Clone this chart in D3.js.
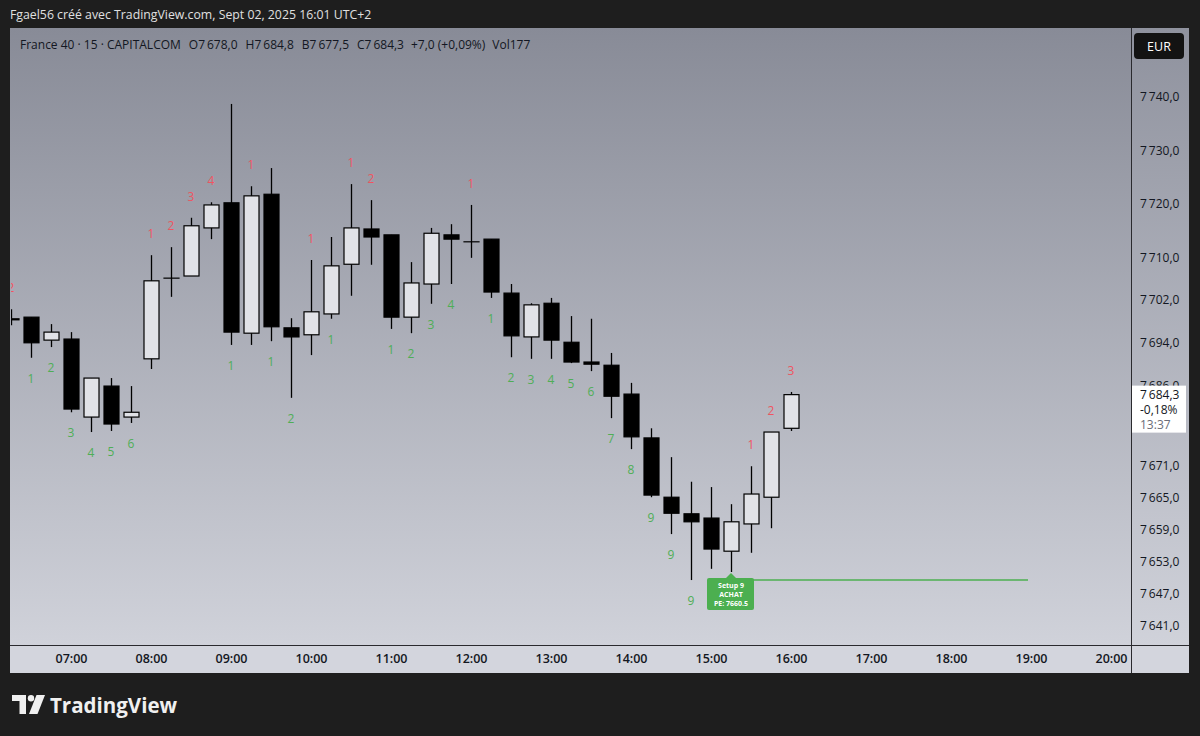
<!DOCTYPE html>
<html><head><meta charset="utf-8">
<script src="https://cdn.jsdelivr.net/npm/d3@7"></script>
<style>
html,body{margin:0;padding:0;background:#1e1e1e;}
svg{display:block;}
text{font-family:"Open Sans","Noto Sans",sans-serif;}
</style></head>
<body>
<svg id="c" width="1200" height="736"></svg>
<script>
// ---- DATA ----
const times = ["06:15","06:30","06:45","07:00","07:15","07:30","07:45","08:00","08:15","08:30","08:45",
  "09:00","09:15","09:30","09:45","10:00","10:15","10:30","10:45","11:00","11:15","11:30","11:45",
  "12:00","12:15","12:30","12:45","13:00","13:15","13:30","13:45","14:00","14:15","14:30","14:45",
  "15:00","15:15","15:30","15:45","16:00"];
const opens  = [7698.3,7698.8,7694.5,7694.7,7680.1,7685.9,7680.1,7691.0,7706.1,7706.5,7715.5,
  7720.2,7695.8,7721.8,7696.8,7695.5,7699.4,7708.7,7715.3,7714.2,7698.8,7705.0,7714.2,
  7712.9,7713.4,7703.3,7695.1,7701.4,7694.1,7690.4,7689.8,7684.4,7676.2,7665.1,7662.0,
  7661.2,7655.0,7660.1,7665.1,7678.0];
const highs  = [7700.3,7698.8,7697.5,7696.0,7687.4,7687.4,7685.9,7710.4,7711.9,7717.4,7720.3,
  7738.7,7723.3,7726.7,7698.6,7709.5,7713.8,7723.7,7720.7,7714.2,7709.1,7715.5,7716.2,
  7719.8,7713.4,7705.0,7701.4,7702.4,7699.0,7698.5,7692.1,7686.5,7678.0,7672.6,7668.0,
  7667.0,7663.8,7670.9,7677.3,7684.8];
const lows   = [7697.3,7691.2,7693.2,7681.0,7677.3,7677.5,7679.0,7689.1,7702.6,7706.5,7713.4,
  7693.6,7693.6,7694.3,7683.7,7691.7,7698.5,7702.8,7708.6,7696.6,7695.8,7701.3,7705.0,
  7709.9,7702.4,7691.3,7691.0,7691.0,7690.2,7688.7,7679.9,7674.1,7665.1,7658.2,7649.6,
  7651.7,7651.1,7654.7,7659.3,7677.5];
const closes = [7698.5,7694.0,7696.0,7681.6,7687.4,7678.8,7681.0,7705.6,7706.1,7715.9,7719.8,
  7696.0,7721.5,7697.0,7695.1,7699.8,7708.4,7715.5,7713.8,7698.8,7705.2,7714.5,7713.4,
  7712.9,7703.5,7695.3,7701.1,7694.5,7690.4,7690.0,7684.0,7676.4,7665.5,7662.1,7660.5,
  7655.4,7660.5,7665.7,7677.3,7684.3];
// TD sequential counts: sell (red, above), buy (green, below)
const sellCount = [2,null,null,null,null,null,null,1,2,3,4,
  null,1,null,null,1,null,1,2,null,null,null,null,
  1,null,null,null,null,null,null,null,null,null,null,null,
  null,null,1,2,3];
const buyCount = [null,1,2,3,4,5,6,null,null,null,null,
  1,null,1,2,null,1,null,null,1,2,3,4,
  null,1,2,3,4,5,6,7,8,9,9,9,
  null,null,null,null,null];
const yTicks = [7740,7730,7720,7710,7702,7694,7686,7671,7665,7659,7653,7647,7641];
const xTickTimes = ["07:00","08:00","09:00","10:00","11:00","12:00","13:00","14:00","15:00","16:00","17:00","18:00","19:00","20:00"];
const setupIndex = 36;
const setupText = ["Setup 9","ACHAT","PE: 7660.5"];
const riskLevel = 7649.6;
const riskEnd = "19:00";
const lastPrice = 7684.3, lastPct = "-0,18%", countdown = "13:37";
const headerText = "Fgael56 créé avec TradingView.com, Sept 02, 2025 16:01 UTC+2";
const legendText = "France 40 · 15 · CAPITALCOM";
const legendOHLC = [["O","7\u2009678,0"],["H","7\u2009684,8"],["B","7\u2009677,5"],["C","7\u2009684,3"]];
const legendChange = "+7,0 (+0,09%)", legendVol = "Vol177";

// ---- LAYOUT ----
const svg = d3.select("#c");
const W = 1200, H = 736;
const plot = {x0:10, x1:1131, y0:28, y1:645};
const axisR = {x0:1131, x1:1189};
const axisB = {y0:645, y1:673};

const parseT = d3.timeParse("%Y-%m-%d %H:%M");
const dt = s => parseT("2025-09-02 " + s);
const x = d3.scaleTime().domain([dt("07:00"), dt("20:00")]).range([71, 71 + 13*80]);
const y = d3.scaleLinear().domain([7641, 7740]).range([626, 97]);
const loc = d3.formatLocale({decimal:",", thousands:"\u2009", grouping:[3], currency:["",""]});
const fmt = loc.format(",.1f");

const defs = svg.append("defs");
const g1 = defs.append("linearGradient").attr("id","bg").attr("x1",0).attr("y1",0).attr("x2",0).attr("y2",1);
g1.append("stop").attr("offset","0%").attr("stop-color","#888b97");
g1.append("stop").attr("offset","100%").attr("stop-color","#d0d2da");
const g2 = defs.append("linearGradient").attr("id","bgr").attr("x1",0).attr("y1",0).attr("x2",0).attr("y2",1);
g2.append("stop").attr("offset","0%").attr("stop-color","#8f929e");
g2.append("stop").attr("offset","100%").attr("stop-color","#d0d2da");
defs.append("clipPath").attr("id","clip").append("rect")
  .attr("x",plot.x0+1).attr("y",plot.y0).attr("width",plot.x1-plot.x0-1).attr("height",plot.y1-plot.y0);

svg.append("rect").attr("width",W).attr("height",H).attr("fill","#1e1e1e");
svg.append("text").attr("x",10).attr("y",19).attr("fill","#e0e0e0").attr("font-size",12.3).text(headerText);

// panes
svg.append("rect").attr("x",plot.x0).attr("y",plot.y0).attr("width",plot.x1-plot.x0).attr("height",plot.y1-plot.y0).attr("fill","url(#bg)");
svg.append("rect").attr("x",axisR.x0).attr("y",plot.y0).attr("width",axisR.x1-axisR.x0).attr("height",plot.y1-plot.y0).attr("fill","url(#bgr)");
svg.append("rect").attr("x",plot.x0).attr("y",axisB.y0).attr("width",axisR.x1-plot.x0).attr("height",axisB.y1-axisB.y0).attr("fill","#d3d5dd");
svg.append("line").attr("x1",axisR.x0+0.5).attr("x2",axisR.x0+0.5).attr("y1",plot.y0).attr("y2",axisB.y1).attr("stroke","#2a2a2e");
svg.append("line").attr("x1",plot.x0).attr("x2",axisR.x1).attr("y1",axisB.y0+0.5).attr("y2",axisB.y0+0.5).attr("stroke","#2a2a2e");

// legend
const lg = svg.append("text").attr("x",20).attr("y",49).attr("fill","#131722").attr("font-size",12);
lg.append("tspan").text(legendText);
legendOHLC.forEach(([k,v]) => { lg.append("tspan").attr("dx",8).text(k); lg.append("tspan").text(v); });
lg.append("tspan").attr("dx",7).text(legendChange);
lg.append("tspan").attr("dx",7).text(legendVol);

// EUR button
svg.append("rect").attr("x",1134).attr("y",33).attr("width",50).attr("height",26).attr("rx",4).attr("fill","#131313");
svg.append("text").attr("x",1159).attr("y",50.5).attr("text-anchor","middle").attr("fill","#fff").attr("font-size",12.5).text("EUR");

// candles
const data = times.map((t,i)=>({t:dt(t),o:opens[i],h:highs[i],l:lows[i],c:closes[i],s:sellCount[i],b:buyCount[i],i}));
const gp = svg.append("g").attr("clip-path","url(#clip)");
const bw = 15;
const cg = gp.selectAll("g.c").data(data).join("g").attr("class","c");
cg.append("line").attr("x1",d=>Math.round(x(d.t))+0.5).attr("x2",d=>Math.round(x(d.t))+0.5)
  .attr("y1",d=>y(d.h)).attr("y2",d=>y(d.l)).attr("stroke","#000").attr("stroke-width",1.3);
cg.append("rect")
  .attr("x",d=>Math.round(x(d.t))-bw/2+0.5).attr("width",bw)
  .attr("y",d=>y(Math.max(d.o,d.c)))
  .attr("height",d=>Math.max(0.01, Math.abs(y(d.o)-y(d.c))))
  .attr("fill",d=>d.c>=d.o ? (d.c===d.o? "#000":"#e1e2e7") : "#000")
  .attr("stroke","#000").attr("stroke-width",1.2);

// count labels
gp.selectAll("text.s").data(data.filter(d=>d.s!=null)).join("text").attr("class","s")
  .attr("x",d=>x(d.t)).attr("y",d=>y(d.h)-17).attr("text-anchor","middle")
  .attr("fill","#ee5561").attr("font-size",12).text(d=>d.s);
gp.selectAll("text.b").data(data.filter(d=>d.b!=null)).join("text").attr("class","b")
  .attr("x",d=>x(d.t)).attr("y",d=>y(d.l)+25).attr("text-anchor","middle")
  .attr("fill","#4fae56").attr("font-size",12).text(d=>d.b);

// setup label and risk line
const sd = data[setupIndex];
const sx = x(sd.t), sy = y(sd.l);
gp.append("line").attr("x1",sx).attr("x2",x(dt(riskEnd))-3).attr("y1",y(riskLevel)).attr("y2",y(riskLevel))
  .attr("stroke","#4caf50").attr("stroke-width",1.5);
const bx = sx - 24, by = sy + 6, bwid = 47, bh = 32;
gp.append("path").attr("d",`M${sx-5},${by} L${sx},${by-5} L${sx+5},${by} Z`).attr("fill","#4caf50");
gp.append("rect").attr("x",bx).attr("y",by).attr("width",bwid).attr("height",bh).attr("rx",2).attr("fill","#4caf50");
setupText.forEach((t,k)=>{
  gp.append("text").attr("x",sx).attr("y",by+9.5+k*9).attr("text-anchor","middle").attr("fill","#fff")
    .attr("font-size",7).attr("font-weight",700).text(t);
});

// y axis
const ya = svg.append("g").attr("transform",`translate(${axisR.x0},0)`)
  .call(d3.axisRight(y).tickValues(yTicks).tickSize(0).tickPadding(9).tickFormat(fmt));
ya.select(".domain").remove();
ya.selectAll("text").attr("fill","#131722").attr("font-size",12).attr("font-family","Open Sans, sans-serif");

// x axis
const xa = svg.append("g").attr("transform",`translate(0,${axisB.y0})`)
  .call(d3.axisBottom(x).tickValues(xTickTimes.map(dt)).tickSize(0).tickPadding(9).tickFormat(d3.timeFormat("%H:%M")));
xa.select(".domain").remove();
xa.selectAll("text").attr("fill","#131722").attr("font-size",12.5).attr("font-weight",600).attr("font-family","Open Sans, sans-serif");

// last price label (covers the 7686 tick, as in the reference)
const ly = y(lastPrice);
svg.append("rect").attr("x",axisR.x0+1).attr("y",ly-9).attr("width",54).attr("height",47).attr("fill","#ffffff");
svg.append("text").attr("x",axisR.x0+9).attr("y",ly+4).attr("fill","#131722").attr("font-size",12).text(fmt(lastPrice));
svg.append("text").attr("x",axisR.x0+9).attr("y",ly+19).attr("fill","#131722").attr("font-size",12).text(lastPct);
svg.append("text").attr("x",axisR.x0+9).attr("y",ly+34).attr("fill","#6a6d78").attr("font-size",12).text(countdown);

// TradingView logo
const lgG = svg.append("g").attr("fill","#f0f0f0");
lgG.append("path").attr("d","M12,695 H26 V714 H19.5 V701 H12 Z");
lgG.append("circle").attr("cx",31).attr("cy",698.2).attr("r",3.2);
lgG.append("path").attr("d","M36.5,695 H45 L37.5,714 H29 Z");
svg.append("text").attr("x",50).attr("y",713).attr("fill","#f0f0f0").attr("font-size",20.5).attr("font-weight",700)
  .attr("font-family","Lato, 'Open Sans', sans-serif").text("TradingView");
</script>
</body></html>
